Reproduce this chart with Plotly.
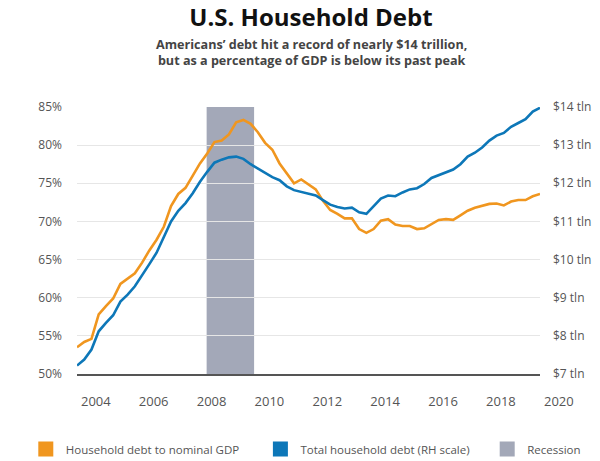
import plotly.graph_objects as go

# Quarterly observations (decimal years), 2003 Q2 .. 2019 Q2
quarters = [round(2003.35 + 0.25 * i, 2) for i in range(65)]

# Household debt to nominal GDP (%)
debt_to_gdp = [
    53.5, 54.2, 54.6, 57.8, 58.9, 59.9, 61.8, 62.5, 63.2, 64.6,
    66.2, 67.6, 69.3, 72.0, 73.6, 74.4, 76.0, 77.6, 78.9, 80.4,
    80.6, 81.4, 83.0, 83.3, 82.8, 81.7, 80.3, 79.4, 77.6, 76.3,
    75.0, 75.5, 74.9, 74.2, 72.7, 71.5, 71.0, 70.4, 70.4, 69.0,
    68.5, 69.0, 70.1, 70.3, 69.6, 69.4, 69.4, 69.0, 69.1, 69.7,
    70.2, 70.3, 70.2, 70.8, 71.4, 71.8, 72.0, 72.3, 72.35, 72.1,
    72.6, 72.8, 72.8, 73.3, 73.6,
]

# Total household debt ($ trillion, RH scale)
total_debt = [
    7.22, 7.38, 7.64, 8.12, 8.34, 8.54, 8.90, 9.08, 9.30, 9.58,
    9.88, 10.18, 10.58, 11.00, 11.28, 11.48, 11.74, 12.04, 12.30, 12.54,
    12.62, 12.68, 12.70, 12.64, 12.50, 12.38, 12.28, 12.16, 12.08, 11.92,
    11.82, 11.78, 11.74, 11.68, 11.56, 11.44, 11.38, 11.34, 11.36, 11.24,
    11.20, 11.40, 11.60, 11.68, 11.66, 11.76, 11.84, 11.87, 11.98, 12.14,
    12.22, 12.30, 12.36, 12.50, 12.70, 12.80, 12.94, 13.12, 13.25, 13.32,
    13.48, 13.58, 13.68, 13.88, 13.98,
]

recession = [2007.83, 2009.47]

x_ticks = [2004, 2006, 2008, 2010, 2012, 2014, 2016, 2018, 2020]
pct_ticks = [50, 55, 60, 65, 70, 75, 80, 85]
pct_labels = [f"{v}%" for v in pct_ticks]
tln_ticks = [7, 8, 9, 10, 11, 12, 13, 14]
tln_labels = [f"${v} tln" for v in tln_ticks]

ORANGE = "#F0961F"
BLUE = "#0D77B8"
GREY = "#A3A8B8"
TXT = "#555555"
FONT = "Open Sans"

X_RANGE = [2003.35, 2019.35]

fig = go.Figure()

fig.add_shape(type="rect", xref="x", yref="paper",
              x0=recession[0], x1=recession[1], y0=0, y1=1,
              fillcolor=GREY, line_width=0, layer="below")

fig.add_trace(go.Scatter(x=quarters, y=total_debt, yaxis="y2", mode="lines",
                         line=dict(color=BLUE, width=2.6), showlegend=False,
                         name="Total household debt (RH scale)"))
fig.add_trace(go.Scatter(x=quarters, y=debt_to_gdp, mode="lines",
                         line=dict(color=ORANGE, width=2.6), showlegend=False,
                         name="Household debt to nominal GDP"))

legend_items = [("Household debt to nominal GDP", ORANGE, "legend", 0.043),
                ("Total household debt (RH scale)", BLUE, "legend2", 0.434),
                ("Recession", GREY, "legend3", 0.812)]
for name, col, lg, _ in legend_items:
    fig.add_trace(go.Scatter(x=[None], y=[None], mode="markers", name=name,
                             legend=lg,
                             marker=dict(symbol="square", size=15, color=col)))

legend_common = dict(orientation="h", xref="container", yref="container",
                     y=0.026, xanchor="left", yanchor="middle",
                     font=dict(size=11.5, color=TXT, family=FONT),
                     bgcolor="rgba(0,0,0,0)", borderwidth=0)
legends = {}
for name, col, lg, xpos in legend_items:
    legends[lg] = dict(legend_common, x=xpos)

fig.update_layout(
    width=600, height=461,
    margin=dict(l=77, r=60, t=107, b=87, autoexpand=False),
    paper_bgcolor="white", plot_bgcolor="white",
    font=dict(family=FONT, color=TXT),
    title=dict(text="<b>U.S. Household Debt</b>", x=311 / 600, xanchor="center",
               y=0.961, yanchor="middle", yref="container",
               font=dict(family=FONT, size=24, color="#111111")),
    xaxis=dict(range=X_RANGE, tickvals=x_ticks[:-1],
               showgrid=False, zeroline=False, showline=True,
               linecolor="#555555", linewidth=2, ticks="",
               tickfont=dict(size=13, color=TXT), ticklabelstandoff=14),
    yaxis=dict(range=[50, 85], tickvals=pct_ticks, ticktext=pct_labels,
               showgrid=True, gridcolor="#E6E6E6", gridwidth=1,
               zeroline=False, ticks="", tickfont=dict(size=12, color=TXT),
               ticklabelstandoff=14),
    yaxis2=dict(range=[7, 14], tickvals=tln_ticks, ticktext=tln_labels,
                overlaying="y", side="right", showgrid=False, zeroline=False,
                ticks="", tickfont=dict(size=12, color=TXT),
                ticklabelstandoff=12),
    annotations=[
        dict(text="<b>Americans\u2019 debt hit a record of nearly $14 trillion,<br>"
                  "but as a percentage of GDP is below its past peak</b>",
             xref="paper", yref="paper", x=(311 - 77) / 463, y=1.203,
             xanchor="center", yanchor="middle", showarrow=False,
             align="center", font=dict(size=12.6, color="#444444", family=FONT)),
        dict(text=str(x_ticks[-1]), xref="paper", yref="paper",
             x=(x_ticks[-1] - X_RANGE[0]) / (X_RANGE[1] - X_RANGE[0]), y=0,
             xanchor="center", yanchor="top", yshift=-16, showarrow=False,
             font=dict(size=13, color=TXT, family=FONT)),
    ],
    **legends,
)

fig.write_html("out.html")
